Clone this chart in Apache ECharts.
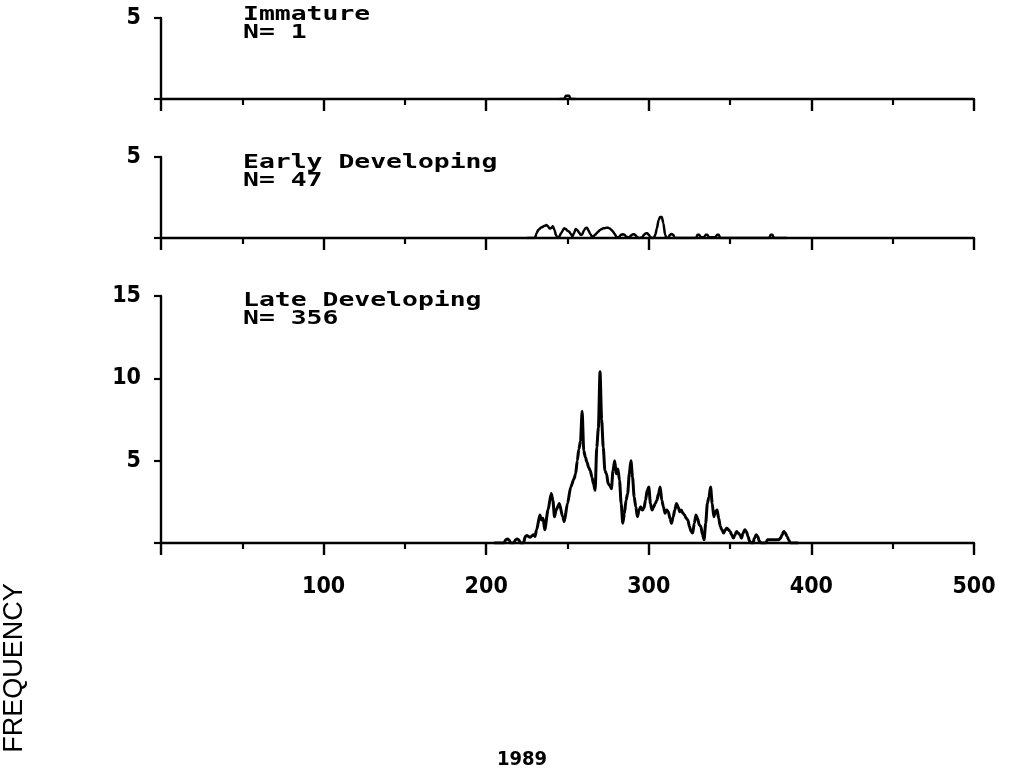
<!DOCTYPE html>
<html>
<head>
<meta charset="utf-8">
<script src="https://cdn.jsdelivr.net/npm/echarts@6/dist/echarts.min.js"></script>
<style>
  html, body { margin: 0; padding: 0; background: #fff; }
  #chart { width: 1013px; height: 770px; }
</style>
</head>
<body>
<div id="chart"></div>
<script>
// Daily frequency (running mean) of fish by maturity stage, 1989.
// Each entry is [day, frequency].
const immatureData = [
  [245, 0], [248, 0], [249, 0.2], [250, 0.2], [251, 0.2], [252, 0], [255, 0]
];

const earlyData = [
  [225, 0], [230, 0], [231, 0.3], [232, 0.5], [234, 0.66], [236, 0.75], [237, 0.8],
  [238, 0.72], [239, 0.58], [240, 0.62], [241, 0.72], [242, 0.5], [243, 0.15], [244, 0],
  [245, 0.1], [246, 0.3], [248, 0.6], [249, 0.55], [250, 0.45], [251, 0.4], [252, 0.25],
  [253, 0.1], [254, 0.3], [255, 0.55], [256, 0.5], [257, 0.35], [258, 0.2], [259, 0.2],
  [260, 0.45], [261, 0.6], [262, 0.64], [263, 0.45], [264, 0.25], [265, 0.1], [266, 0.1],
  [267, 0.2], [268, 0.3], [269, 0.4], [270, 0.5], [271, 0.55], [272, 0.6], [273, 0.6],
  [274, 0.64], [275, 0.64], [276, 0.58], [277, 0.5], [278, 0.4], [279, 0.25], [280, 0.08],
  [281, 0.02], [282, 0.1], [283, 0.2], [284, 0.23], [285, 0.2], [286, 0.1], [287, 0.05],
  [288, 0.05], [289, 0.15], [290, 0.22], [291, 0.23], [292, 0.15], [293, 0.05], [294, 0],
  [296, 0.05], [297, 0.2], [298, 0.28], [299, 0.3], [300, 0.2], [301, 0.05], [302, 0],
  [303, 0], [304, 0.2], [305, 0.6], [306, 1.1], [307, 1.3], [308, 1.3], [309, 0.9],
  [310, 0.2], [311, 0], [312, 0], [313, 0.2], [314, 0.25], [315, 0.2], [316, 0],
  [329, 0], [330, 0.2], [331, 0.2], [332, 0.05], [334, 0.05], [335, 0.2], [336, 0.2],
  [337, 0.05], [341, 0.05], [342, 0.2], [343, 0.2], [344, 0], [374, 0], [375, 0.2],
  [376, 0.2], [377, 0], [385, 0]
];

const lateData = [
  [205, 0], [211, 0], [212, 0.2], [213, 0.25], [214, 0.2], [215, 0], [217, 0],
  [218, 0.2], [219, 0.25], [220, 0.2], [221, 0], [223, 0], [224, 0.4], [225, 0.45],
  [227, 0.35], [229, 0.5], [230, 0.4], [231, 0.8], [233, 1.7], [234, 1.4], [235, 1.5],
  [236, 0.8], [238, 2.0], [240, 3.0], [241, 2.6], [242, 1.6], [243, 2.0], [245, 2.4],
  [247, 1.6], [248, 1.3], [250, 2.4], [252, 3.4], [254, 3.9], [255, 4.2], [256, 5.0],
  [257, 5.7], [258, 6.2], [259, 8.0], [260, 5.6], [261, 5.2], [262, 4.9], [263, 4.6],
  [264, 4.4], [265, 4.0], [266, 3.6], [267, 3.2], [268, 5.8], [269, 7.0], [270, 10.4],
  [271, 7.5], [272, 5.8], [273, 4.4], [274, 4.2], [275, 3.6], [276, 3.5], [277, 3.3],
  [278, 4.4], [279, 5.0], [280, 4.2], [281, 4.5], [282, 3.8], [283, 2.4], [284, 1.2],
  [285, 1.8], [286, 2.6], [287, 3.0], [288, 4.2], [289, 5.0], [290, 4.0], [291, 2.8],
  [292, 2.2], [293, 1.6], [294, 2.0], [295, 2.2], [296, 2.0], [297, 2.1], [298, 2.6],
  [299, 3.2], [300, 3.4], [301, 2.4], [302, 2.0], [303, 2.2], [304, 2.4], [305, 2.6],
  [306, 3.0], [307, 3.4], [308, 2.6], [309, 2.2], [310, 1.8], [311, 2.0], [312, 1.9],
  [313, 1.5], [314, 1.2], [315, 1.6], [316, 2.0], [317, 2.4], [318, 2.2], [319, 1.9],
  [320, 2.0], [321, 1.8], [322, 1.7], [323, 1.5], [324, 1.4], [325, 1.0], [326, 0.7],
  [327, 0.6], [328, 1.2], [329, 1.7], [330, 1.5], [331, 1.1], [332, 1.0], [333, 0.5],
  [334, 0.2], [335, 1.2], [336, 2.4], [337, 2.8], [338, 3.4], [339, 2.4], [340, 1.6],
  [341, 1.9], [342, 2.0], [343, 1.5], [344, 1.0], [345, 0.8], [346, 0.6], [347, 0.8],
  [348, 0.9], [349, 0.8], [350, 0.7], [351, 0.5], [352, 0.3], [353, 0.5], [354, 0.7],
  [355, 0.6], [356, 0.5], [357, 0.3], [358, 0.6], [359, 0.8], [360, 0.7], [361, 0.4],
  [362, 0.1], [363, 0], [364, 0], [365, 0.3], [366, 0.5], [367, 0.4], [368, 0.1],
  [369, 0], [372, 0], [373, 0.2], [380, 0.2], [381, 0.3], [382, 0.5], [383, 0.7],
  [384, 0.6], [385, 0.4], [386, 0.2], [387, 0], [392, 0]
];

const panelTitles = ['Immature', 'Early Developing', 'Late Developing'];
const panelCounts = ['N= 1', 'N= 47', 'N= 356'];
const panelMax = [5, 5, 15];
const xMin = 0, xMax = 500, xStep = 100;
const yearLabel = '1989';
const yLabel = 'FREQUENCY';

// Panel geometry
const grids = [
  { left: 161, right: 39, top: 18, height: 81 },
  { left: 161, right: 39, top: 157, height: 81 },
  { left: 161, right: 39, top: 296, height: 247 }
];

const ink = '#000';
const tickFont = { color: ink, fontFamily: 'DejaVu Sans Condensed', fontWeight: 'bold', fontSize: 23 };

const xAxes = grids.map((g, i) => ({
  type: 'value', gridIndex: i, min: xMin, max: xMax, interval: xStep,
  axisLine: { show: true, onZero: false, lineStyle: { color: ink, width: 2.4 } },
  axisTick: { show: true, length: 12, lineStyle: { color: ink, width: 2.4 } },
  minorTick: { show: true, splitNumber: 2, length: 6, lineStyle: { color: ink, width: 2.2 } },
  splitLine: { show: false },
  axisLabel: i === 2 ? Object.assign({
    margin: 33,
    formatter: v => (v === 0 ? '' : String(v))
  }, tickFont) : { show: false }
}));

const yAxes = grids.map((g, i) => ({
  type: 'value', gridIndex: i, min: 0, max: panelMax[i], interval: 5,
  axisLine: { show: true, lineStyle: { color: ink, width: 2.4 } },
  axisTick: { show: true, length: 7, lineStyle: { color: ink, width: 2.2 } },
  splitLine: { show: false },
  axisLabel: Object.assign({
    margin: 20,
    formatter: v => (v === 0 ? '' : String(v))
  }, tickFont)
}));

const seriesData = [immatureData, earlyData, lateData];
const series = seriesData.map((d, i) => ({
  type: 'line', xAxisIndex: i, yAxisIndex: i, data: d,
  showSymbol: false, smooth: 0.25, smoothMonotone: 'x',
  lineStyle: { color: ink, width: i === 2 ? 3 : 2.5 },
  silent: true, animation: false
}));

// Panel headings in a fixed-pitch plotter style: monospace glyphs stretched horizontally
const headFont = 'bold 19px "DejaVu Sans Mono"';
const headScale = 1.39;
const headings = [];
const headTops = [15, 163, 301];
grids.forEach((g, i) => {
  headings.push({
    type: 'text', x: 243, y: headTops[i], scaleX: headScale,
    style: { text: panelTitles[i], font: headFont, fill: ink, verticalAlign: 'middle' }
  });
  headings.push({
    type: 'text', x: 243, y: headTops[i] + 18, scaleX: headScale,
    style: { text: panelCounts[i], font: headFont, fill: ink, verticalAlign: 'middle' }
  });
});

const chart = echarts.init(document.getElementById('chart'), null, { renderer: 'canvas' });
chart.setOption({
  animation: false,
  backgroundColor: '#fff',
  grid: grids,
  xAxis: xAxes,
  yAxis: yAxes,
  series: series,
  graphic: headings.concat([
    {
      type: 'text', x: 15, y: 668, rotation: Math.PI / 2,
      style: { text: yLabel, font: '27px "Liberation Sans"', fill: ink, align: 'center', verticalAlign: 'middle' }
    },
    {
      type: 'text', x: 522, y: 760,
      style: { text: yearLabel, font: 'bold 20px "DejaVu Sans Condensed"', fill: ink, align: 'center', verticalAlign: 'middle' }
    }
  ])
});
</script>
</body>
</html>
